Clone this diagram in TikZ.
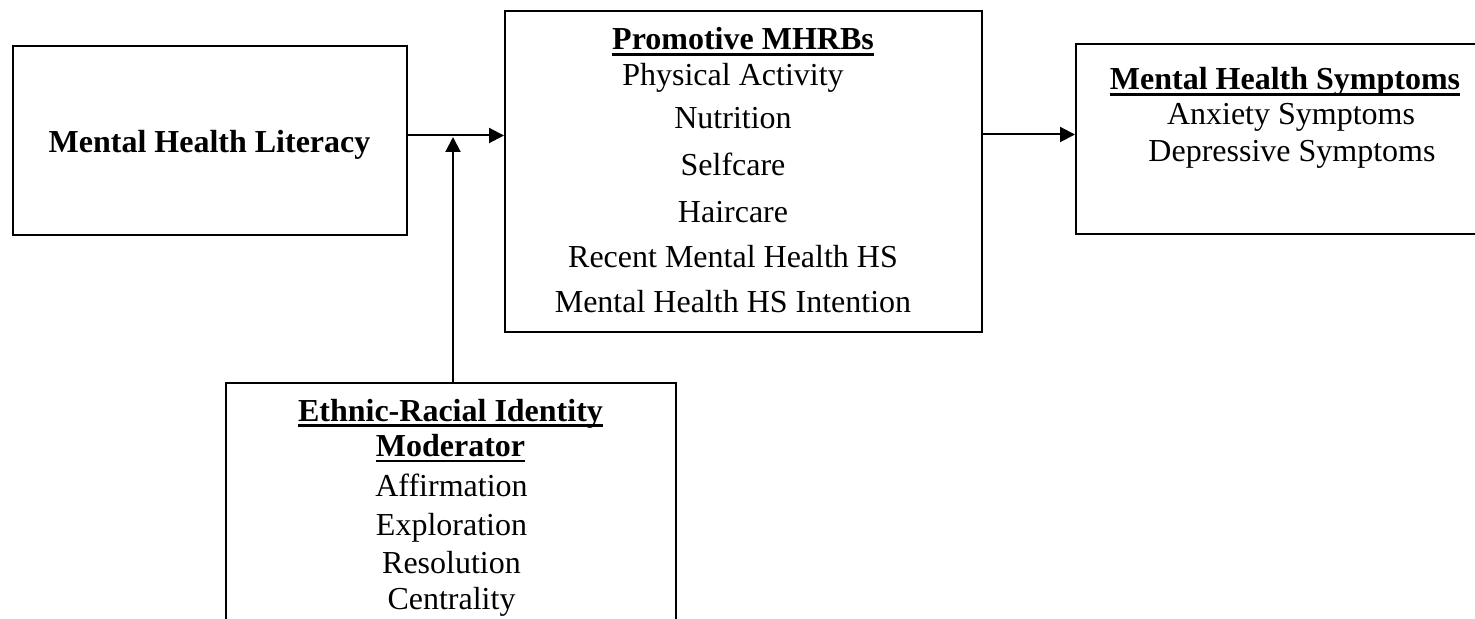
\documentclass[tikz,border=0pt]{standalone}
\usepackage{fontspec}
\setmainfont{Liberation Serif}
\usetikzlibrary{arrows.meta}
\newcommand{\myul}[1]{\setbox0\hbox{#1}\rlap{\rule[-2.9pt]{\wd0}{1.4pt}}\box0}
\tikzset{
  box/.style={draw, line width=1pt, inner sep=0pt},
  txt/.style={anchor=base, inner sep=0pt, font=\fontsize{16pt}{19pt}\selectfont},
  ttl/.style={txt, font=\fontsize{16pt}{19pt}\selectfont\bfseries},
  arr/.style={line width=1pt, -{Triangle[length=7.5pt,width=7.5pt]}}
}
\begin{document}
\begin{tikzpicture}[x=0.5pt,y=-0.5pt]
\clip (0,0) rectangle (1475,619);
\fill[white] (0,0) rectangle (1475,619);
% boxes
\node[box, minimum width=197pt, minimum height=94.5pt] (lit) at (210,140.5) {};
\node[box, minimum width=238.5pt, minimum height=160.5pt] (promo) at (743.5,171.5) {};
\node[box, minimum width=212pt, minimum height=95pt] (sym) at (1288,139.5) {};
\node[box, minimum width=225pt, minimum height=130pt] (mod) at (451,513) {};
% texts
\node[ttl] (litT) at (209.5,153) {Mental Health Literacy};
\node[ttl] (promoT) at (743,50) {\myul{Promotive MHRBs}};
\node[txt] (p1) at (733,86) {Physical Activity};
\node[txt] (p2) at (733,129) {Nutrition};
\node[txt] (p3) at (733,176) {Selfcare};
\node[txt] (p4) at (733,223) {Haircare};
\node[txt] (p5) at (733,268) {Recent Mental Health HS};
\node[txt] (p6) at (733,313) {Mental Health HS Intention};
\node[ttl] (symT) at (1285,90) {\myul{Mental Health Symptoms}};
\node[txt] (s1) at (1291,124.5) {Anxiety Symptoms};
\node[txt] (s2) at (1292,162) {Depressive Symptoms};
\node[ttl] (modT1) at (450.5,421.5) {\myul{Ethnic-Racial Identity}};
\node[ttl] (modT2) at (450.5,456.5) {\myul{Moderator}};
\node[txt] (m1) at (451.5,496) {Affirmation};
\node[txt] (m2) at (451.5,535) {Exploration};
\node[txt] (m3) at (451.5,573) {Resolution};
\node[txt] (m4) at (451.5,609) {Centrality};
% connectors
\coordinate (j) at (453,135.5);
\coordinate (jt) at (453,137);
\coordinate (k) at (1000,134.5);
\draw[arr] (j -| lit.east) -- (j -| promo.west);
\draw[arr] (mod.north -| jt) -- (jt);
\draw[arr] (k -| promo.east) -- (k -| sym.west);
\end{tikzpicture}
\end{document}
